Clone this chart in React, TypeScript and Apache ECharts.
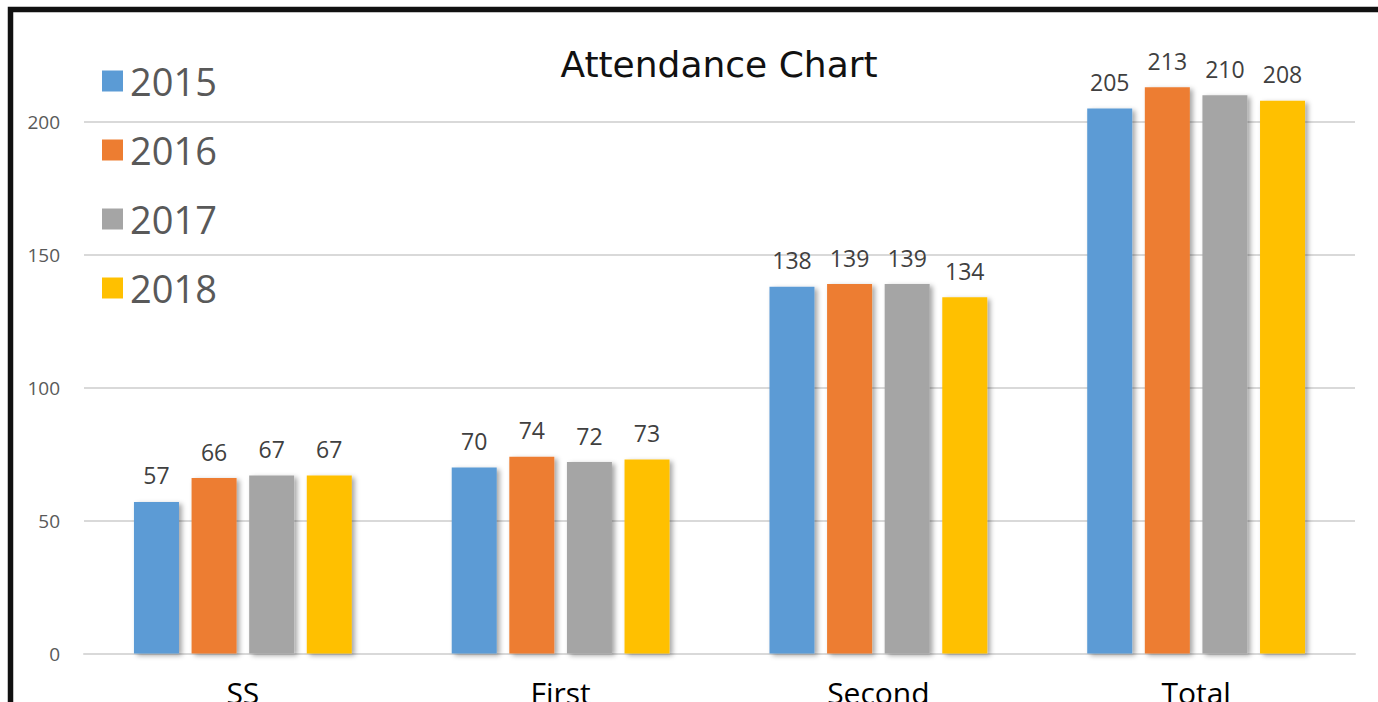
import React, { useEffect, useRef } from "react";
import * as echarts from "echarts";

const categories = ["SS", "First", "Second", "Total"];
const seriesNames = ["2015", "2016", "2017", "2018"];
const values2015 = [57, 70, 138, 205];
const values2016 = [66, 74, 139, 213];
const values2017 = [67, 72, 139, 210];
const values2018 = [67, 73, 134, 208];
const colors = ["#5B9BD5", "#ED7D31", "#A5A5A5", "#FFC000"];
const yTicks = [0, 50, 100, 150, 200];

const FONT = "'Open Sans', 'Noto Sans', sans-serif";
const TITLE_FONT = "'DejaVu Sans', 'Open Sans', sans-serif";
const OFF = 40; // chart div extends this far above the page

export default function App() {
  const ref = useRef<HTMLDivElement>(null);
  useEffect(() => {
    if (!ref.current) return;
    const chart = echarts.init(ref.current, null, { renderer: "svg" });
    const allValues = [values2015, values2016, values2017, values2018];
    chart.setOption({
      animation: false,
      backgroundColor: "#ffffff",
      title: {
        text: "Attendance Chart",
        left: 714,
        top: OFF + 41,
        textAlign: "center",
        textStyle: { fontFamily: TITLE_FONT, fontSize: 36, fontWeight: "normal", color: "#111111" },
      },
      legend: {
        orient: "vertical",
        left: 102,
        top: OFF + 62,
        padding: 0,
        itemWidth: 21,
        itemHeight: 21,
        itemGap: 31,
        icon: "rect",
        data: seriesNames,
        textStyle: {
          fontFamily: FONT,
          fontSize: 38,
          lineHeight: 38,
          color: "#595959",
          padding: [0, 0, 0, 2],
        },
      },
      grid: {
        left: 84,
        right: 23,
        top: OFF - 11,
        bottom: 48.5,
        containLabel: false,
        outerBoundsMode: "none",
      },
      xAxis: {
        type: "category",
        data: categories,
        axisLine: { show: true, lineStyle: { color: "#d9d9d9", width: 2 } },
        axisTick: { show: false },
        axisLabel: { fontFamily: FONT, fontSize: 30, color: "#000000", margin: 24 },
      },
      yAxis: {
        type: "value",
        min: 0,
        max: 250,
        interval: 50,
        axisLine: { show: false },
        axisTick: { show: false },
        axisLabel: {
          fontFamily: FONT,
          fontSize: 19,
          color: "#595959",
          margin: 24,
          formatter: (v: number) => (yTicks.includes(v) ? String(v) : ""),
        },
        splitLine: { lineStyle: { color: "#d9d9d9", width: 2 } },
      },
      series: seriesNames.map((name, i) => ({
        name,
        type: "bar",
        data: allValues[i],
        barWidth: 45,
        barGap: "28%",
        itemStyle: {
          color: colors[i],
          shadowColor: "rgba(0,0,0,0.35)",
          shadowBlur: 5,
          shadowOffsetX: 3,
          shadowOffsetY: 2,
        },
        label: {
          show: true,
          position: "top",
          distance: 15,
          fontFamily: FONT,
          fontSize: 23,
          color: "#404040",
        },
      })),
      graphic: [
        {
          type: "rect",
          z: 100,
          shape: { x: 10.5, y: OFF + 9.5, width: 1420, height: 800 },
          style: { fill: "none", stroke: "#111111", lineWidth: 5.5 },
        },
      ],
    });
    return () => chart.dispose();
  }, []);
  return (
    <div
      ref={ref}
      style={{ position: "fixed", left: 0, top: -OFF, width: 1378, height: 702 + OFF }}
    />
  );
}
